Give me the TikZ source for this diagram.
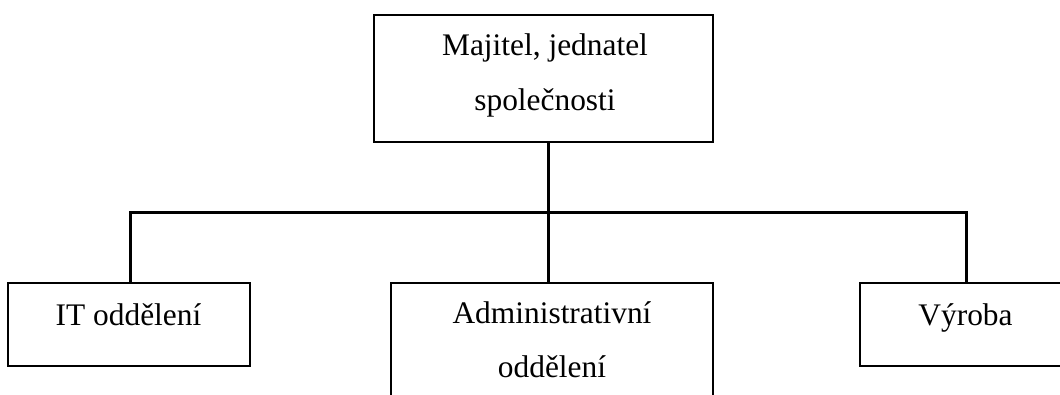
\documentclass[tikz,border=0pt]{standalone}
\usepackage{fontspec}
\setmainfont{Liberation Serif}
\begin{document}
\begin{tikzpicture}[x=1pt,y=-1pt,
  box/.style={draw=black, line width=1.6pt, rectangle, inner sep=0pt},
  label/.style={anchor=base, inner sep=0pt, font=\fontsize{31.4}{40}\selectfont},
  link/.style={draw=black, line width=3pt, line join=miter}]
  \useasboundingbox (0,0) rectangle (1060,394);
  % boxes
  \node[box, minimum width=339pt, minimum height=127pt] (owner) at (543.5,78.5) {};
  \node[box, minimum width=242pt, minimum height=83pt] (it) at (129,324.5) {};
  \node[box, minimum width=322pt, minimum height=130pt] (admin) at (552,348) {};
  \node[box, minimum width=211pt, minimum height=83pt] (prod) at (965.5,324.5) {};
  % texts
  \node[label] (ownerA) at (545,55) {Majitel, jednatel};
  \node[label] (ownerB) at (545,110) {společnosti};
  \node[label] (itA) at (128.5,325) {IT oddělení};
  \node[label] (adminA) at (552,323) {Administrativní};
  \node[label] (adminB) at (552,377) {oddělení};
  \node[label] (prodA) at (965.5,325) {Výroba};
  % connectors
  \coordinate (hub) at (548,212);
  \coordinate (leftdrop) at (130,212);
  \coordinate (rightdrop) at (966,212);
  \draw[link] (owner.south -| hub) -- (hub |- admin.north);
  \draw[link] (leftdrop |- it.north) -- (leftdrop) -- (rightdrop) -- (rightdrop |- prod.north);
\end{tikzpicture}
\end{document}
